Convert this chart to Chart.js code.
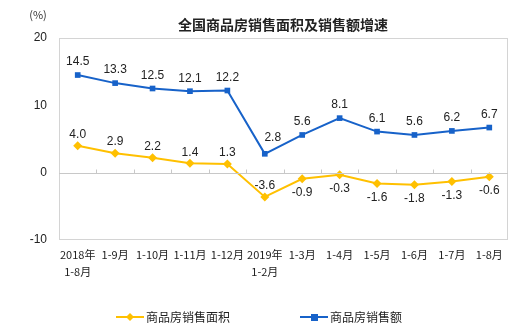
<!DOCTYPE html>
<html>
<head>
<meta charset="utf-8">
<script src="https://cdn.jsdelivr.net/npm/chart.js@4.4.1/dist/chart.umd.min.js"></script>
<style>
  html, body { margin: 0; padding: 0; background: #fff; }
  #wrap { position: relative; width: 520px; height: 336px; }
</style>
</head>
<body>
<div id="wrap"><canvas id="chart-growth" width="520" height="336"></canvas></div>
<script>
const categories = [['2018年', '1-8月'], '1-9月', '1-10月', '1-11月', '1-12月', ['2019年', '1-2月'], '1-3月', '1-4月', '1-5月', '1-6月', '1-7月', '1-8月'];
const areaGrowth = [4.0, 2.9, 2.2, 1.4, 1.3, -3.6, -0.9, -0.3, -1.6, -1.8, -1.3, -0.6];
const salesGrowth = [14.5, 13.3, 12.5, 12.1, 12.2, 2.8, 5.6, 8.1, 6.1, 5.6, 6.2, 6.7];
const yTicks = [-10, 0, 10, 20];

const FONT = '"Noto Sans CJK SC", "Noto Sans", sans-serif';
const NUM_FONT = '"Liberation Sans", Arial, sans-serif';
const BLUE = '#1762c9';
const YELLOW = '#ffc000';

// frame, zero line ticks, title, unit, data labels, legend
const decorPlugin = {
    id: 'decor',
    afterDraw(chart) {
        const c = chart.ctx;
        const area = chart.chartArea;
        const xs = chart.scales.x;
        const ys = chart.scales.y;
        c.save();

        c.strokeStyle = '#d4d4d4';
        c.lineWidth = 1;
        c.strokeRect(area.left + 0.5, area.top + 0.5, area.right - area.left - 1, area.bottom - area.top - 1);

        const y0 = Math.round(ys.getPixelForValue(0)) + 0.5;
        c.strokeStyle = '#c8c8c8';
        c.beginPath();
        c.moveTo(area.left, y0);
        c.lineTo(area.right, y0);
        const step = (area.right - area.left) / categories.length;
        for (let i = 1; i < categories.length; i++) {
            const x = Math.round(area.left + step * i) + 0.5;
            c.moveTo(x, y0);
            c.lineTo(x, y0 - 4);
        }
        c.stroke();

        c.fillStyle = '#222';
        c.font = 'bold 14px ' + FONT;
        c.textAlign = 'center';
        c.textBaseline = 'middle';
        c.fillText('全国商品房销售面积及销售额增速', 283, 25);

        c.font = '11px ' + FONT;
        c.fillStyle = '#333';
        c.fillText('(%)', 38, 15);

        // data labels
        c.font = '12px ' + NUM_FONT;
        c.fillStyle = '#222';
        salesGrowth.forEach((v, i) => {
            let x = xs.getPixelForValue(i);
            let y = ys.getPixelForValue(v) - 13;
            if (i === 5) { x += 8; y -= 3; }
            c.fillText(v.toFixed(1), x, y);
        });
        areaGrowth.forEach((v, i) => {
            let x = xs.getPixelForValue(i);
            let y = ys.getPixelForValue(v);
            if (v >= 0 || i === 5) {
                y -= 11;
            } else {
                y += 14;
            }
            c.fillText(v.toFixed(1), x, y);
        });

        // legend
        const drawItem = (x, y, color, text, shape) => {
            c.strokeStyle = color;
            c.lineWidth = 2;
            c.beginPath();
            c.moveTo(x, y);
            c.lineTo(x + 28, y);
            c.stroke();
            c.fillStyle = color;
            c.beginPath();
            if (shape === 'diamond') {
                c.moveTo(x + 14, y - 4);
                c.lineTo(x + 18, y);
                c.lineTo(x + 14, y + 4);
                c.lineTo(x + 10, y);
            } else {
                c.rect(x + 11, y - 3, 7, 7);
            }
            c.closePath();
            c.fill();
            c.fillStyle = '#222';
            c.font = '12px ' + FONT;
            c.textAlign = 'left';
            c.fillText(text, x + 30, y);
        };
        drawItem(116, 317, YELLOW, '商品房销售面积', 'diamond');
        drawItem(300, 317, BLUE, '商品房销售额', 'square');

        c.restore();
    }
};

const ctx = document.getElementById('chart-growth').getContext('2d');
const chartGrowth = new Chart(ctx, {
    type: 'line',
    data: {
        labels: categories,
        datasets: [
            {
                label: '商品房销售面积',
                data: areaGrowth,
                borderColor: YELLOW,
                backgroundColor: YELLOW,
                borderWidth: 2,
                pointStyle: 'rectRot',
                pointRadius: 4.5,
                pointBorderWidth: 0,
                tension: 0
            },
            {
                label: '商品房销售额',
                data: salesGrowth,
                borderColor: BLUE,
                backgroundColor: BLUE,
                borderWidth: 2,
                pointStyle: 'rect',
                pointRadius: 4,
                pointBorderWidth: 0,
                tension: 0
            }
        ]
    },
    options: {
        responsive: false,
        animation: false,
        layout: { padding: { top: 38, right: 12, left: 0, bottom: 0 } },
        plugins: {
            legend: { display: false },
            title: { display: false },
            tooltip: { enabled: false }
        },
        scales: {
            x: {
                offset: true,
                grid: { display: false, drawTicks: false },
                border: { display: false },
                ticks: {
                    autoSkip: false,
                    maxRotation: 0,
                    padding: 7,
                    color: '#222',
                    font: { family: FONT, size: 11, lineHeight: 1.5 }
                },
                afterFit(axis) { axis.height = 96; }
            },
            y: {
                min: -10,
                max: 20,
                afterBuildTicks(axis) { axis.ticks = yTicks.map(v => ({ value: v })); },
                grid: { display: false, drawTicks: false },
                border: { display: false },
                ticks: {
                    padding: 12,
                    color: '#222',
                    font: { family: NUM_FONT, size: 12 }
                },
                afterFit(axis) { axis.width = 59; }
            }
        }
    },
    plugins: [decorPlugin]
});
</script>
</body>
</html>
